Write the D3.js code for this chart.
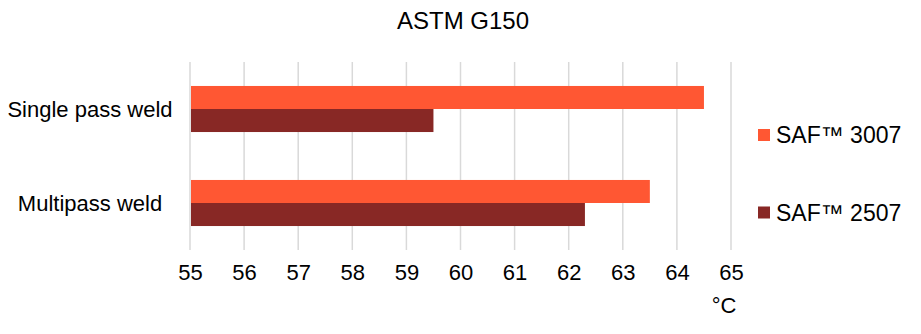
<!DOCTYPE html>
<html>
<head>
<meta charset="utf-8">
<script src="https://cdn.jsdelivr.net/npm/d3@7"></script>
<style>
  body { margin: 0; background: #fff; }
  svg { display: block; font-family: "Liberation Sans", Arial, sans-serif; }
</style>
</head>
<body>
<svg></svg>
<script>
let categories = ["Single pass weld", "Multipass weld"]
let seriesNames = ["SAF™ 3007", "SAF™ 2507"]
let saf3007 = [64.5, 63.5]
let saf2507 = [59.5, 62.3]
let xTicks = [55, 56, 57, 58, 59, 60, 61, 62, 63, 64, 65]

let colors = ["#ff5733", "#882825"]

let width = 921
let height = 334
let plotLeft = 190
let plotRight = 731
let plotTop = 62
let plotBottom = 250
let fontFamily = "Liberation Sans, Arial, sans-serif"

let svg = d3.select("svg")
  .attr("width", width)
  .attr("height", height)

let xScale = d3.scaleLinear()
  .domain([55, 65])
  .range([plotLeft, plotRight])

let yScale = d3.scaleBand()
  .domain(categories)
  .range([plotTop, plotBottom])
  .paddingInner(0.51)
  .paddingOuter(0.255)

let subScale = d3.scaleBand()
  .domain(seriesNames)
  .range([0, yScale.bandwidth()])

// gridlines
svg.append("g")
  .selectAll("line")
  .data(xTicks)
  .enter()
  .append("line")
  .attr("x1", (d) => xScale(d))
  .attr("x2", (d) => xScale(d))
  .attr("y1", plotTop)
  .attr("y2", plotBottom)
  .attr("stroke", "#d9d9d9")
  .attr("stroke-width", 1.5)

// bars
let rows = categories.map((c, i) => {
  return [
    { cat: c, series: seriesNames[0], value: saf3007[i], color: colors[0] },
    { cat: c, series: seriesNames[1], value: saf2507[i], color: colors[1] }
  ]
}).flat()

svg.append("g")
  .selectAll("rect")
  .data(rows)
  .enter()
  .append("rect")
  .attr("x", xScale(55) + 1)
  .attr("y", (d) => yScale(d.cat) + subScale(d.series))
  .attr("width", (d) => xScale(d.value) - xScale(55) - 1)
  .attr("height", subScale.bandwidth())
  .attr("fill", (d) => d.color)

// x axis labels
let xAxis = d3.axisBottom(xScale)
  .tickValues(xTicks)
  .tickSize(0)
  .tickPadding(14)

let gx = svg.append("g")
  .attr("transform", "translate(0," + plotBottom + ")")
  .call(xAxis)
gx.select(".domain").remove()
gx.selectAll("text")
  .style("font-size", "22px")
  .style("font-family", fontFamily)
  .attr("fill", "#000")

// y axis labels
let yAxis = d3.axisLeft(yScale).tickSize(0).tickPadding(0)
let gy = svg.append("g")
  .call(yAxis)
gy.select(".domain").remove()
gy.selectAll("text")
  .attr("x", 90)
  .attr("dy", "0.36em")
  .attr("text-anchor", "middle")
  .style("font-size", "22px")
  .style("font-family", fontFamily)
  .attr("fill", "#000")

// title
svg.append("text")
  .attr("x", 463)
  .attr("y", 29)
  .attr("text-anchor", "middle")
  .style("font-size", "24px")
  .text("ASTM G150")

// unit
svg.append("text")
  .attr("x", 724)
  .attr("y", 313)
  .attr("text-anchor", "middle")
  .style("font-size", "22px")
  .text("°C")

// legend
let legend = svg.append("g")
  .selectAll("g")
  .data(seriesNames)
  .enter()
  .append("g")
  .attr("transform", (d, i) => "translate(758," + (135 + i * 77.5) + ")")

legend.append("rect")
  .attr("x", 0)
  .attr("y", -6)
  .attr("width", 12)
  .attr("height", 12)
  .attr("fill", (d, i) => colors[i])

legend.append("text")
  .attr("x", 18)
  .attr("y", 8)
  .style("font-size", "23px")
  .text((d) => d)
</script>
</body>
</html>
